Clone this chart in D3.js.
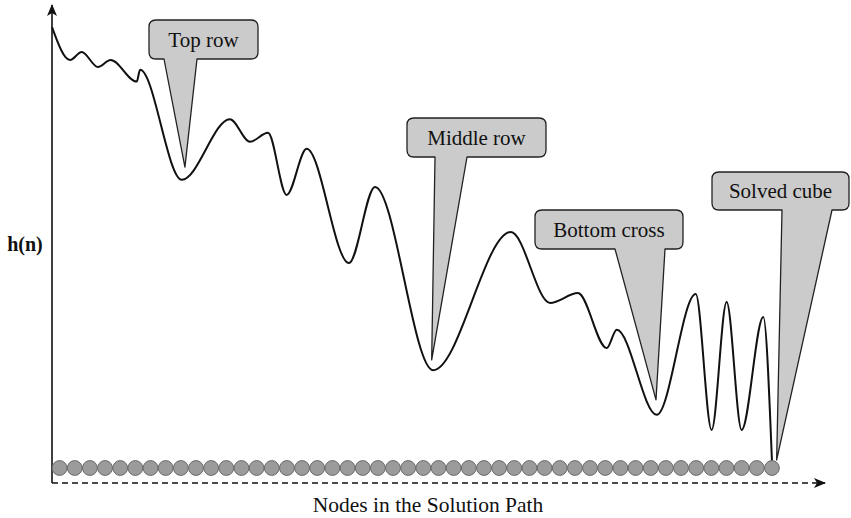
<!DOCTYPE html>
<html>
<head>
<meta charset="utf-8">
<script src="https://cdn.jsdelivr.net/npm/d3@7/dist/d3.min.js"></script>
<style>
  html, body { margin: 0; padding: 0; background: #fff; }
  svg { display: block; }
  text { font-family: "Liberation Serif", "DejaVu Serif", serif; fill: #111; }
</style>
</head>
<body>
<svg id="chart" width="851" height="518"></svg>
<script>
// Heuristic value h(n) along the solution path (x in node units, h in arbitrary units)
const pathNodeX = [-0.5, 0.69, 1.46, 2.53, 3.37, 5.09, 5.31, 8.06, 11.24, 12.56, 13.75, 14.98,
  16.30, 19.09, 20.81, 24.64, 29.78, 32.36, 34.20, 36.10, 36.76, 39.40, 41.97, 43.02,
  44.01, 45.00, 46.43, 47.0];
const pathH = [97, 90, 91.7, 88.5, 90, 85.4, 87.9, 64.5, 77.4, 72.6, 74.5, 61.3,
  71.1, 46.8, 63.0, 24.0, 53.4, 38.3, 40.4, 28.7, 32.6, 14.5, 40.2, 11.3,
  38.5, 11.3, 35.3, 4.7];

// Nodes on the solution path
const nodeCount = 48;

// Milestones marked along the curve
const milestoneLabels = ["Top row", "Middle row", "Bottom cross", "Solved cube"];
const milestoneNodeX = [8.27, 24.55, 39.35, 47.31];
const milestoneH = [67.2, 26.2, 17.7, 4.9];

// Axis titles
const yTitle = "h(n)";
const xTitle = "Nodes in the Solution Path";

// Callout box layout (pixels): left, right, top, bottom, pointer base left/right
const calloutLayout = [
  { x0: 149, x1: 258, y0: 20, y1: 59, p0: 164, p1: 197 },
  { x0: 407, x1: 546, y0: 118, y1: 157, p0: 435, p1: 467 },
  { x0: 535, x1: 683, y0: 210, y1: 249, p0: 615, p1: 665 },
  { x0: 712, x1: 849, y0: 172, y1: 210, p0: 782, p1: 832 }
];

const svg = d3.select("#chart");

const x = d3.scaleLinear().domain([-0.5, 50.5]).range([52, 825]);
const y = d3.scaleLinear().domain([0, 100]).range([483, 13]);

const defs = svg.append("defs");
defs.append("marker")
  .attr("id", "arrow")
  .attr("viewBox", "0 0 12 10")
  .attr("refX", 11).attr("refY", 5)
  .attr("markerWidth", 12).attr("markerHeight", 10)
  .attr("markerUnits", "userSpaceOnUse")
  .attr("orient", "auto")
  .append("path")
  .attr("d", "M0,0 L12,5 L0,10 L3,5 Z")
  .attr("fill", "#111");

// Callouts (drawn first so the curve sits on top)
const r = 7;
function calloutPath(b, tx, ty) {
  return [
    `M${b.x0 + r},${b.y0}`,
    `L${b.x1 - r},${b.y0}`,
    `Q${b.x1},${b.y0} ${b.x1},${b.y0 + r}`,
    `L${b.x1},${b.y1 - r}`,
    `Q${b.x1},${b.y1} ${b.x1 - r},${b.y1}`,
    `L${b.p1},${b.y1}`,
    `L${tx},${ty}`,
    `L${b.p0},${b.y1}`,
    `L${b.x0 + r},${b.y1}`,
    `Q${b.x0},${b.y1} ${b.x0},${b.y1 - r}`,
    `L${b.x0},${b.y0 + r}`,
    `Q${b.x0},${b.y0} ${b.x0 + r},${b.y0}`,
    "Z"
  ].join(" ");
}

const callouts = svg.append("g").attr("class", "callouts")
  .selectAll("g")
  .data(milestoneLabels.map((label, i) => ({
    label, nx: milestoneNodeX[i], h: milestoneH[i], box: calloutLayout[i]
  })))
  .join("g");

callouts.append("path")
  .attr("d", d => calloutPath(d.box, x(d.nx), y(d.h)))
  .attr("fill", "#cbcbcb")
  .attr("stroke", "#222")
  .attr("stroke-width", 1.3)
  .attr("stroke-linejoin", "round");

callouts.append("text")
  .attr("x", d => (d.box.x0 + d.box.x1) / 2)
  .attr("y", d => (d.box.y0 + d.box.y1) / 2 + 7)
  .attr("text-anchor", "middle")
  .attr("font-size", 21)
  .text(d => d.label);

// Axes
svg.append("line")
  .attr("x1", x(-0.5)).attr("y1", y(0))
  .attr("x2", x(-0.5)).attr("y2", 5)
  .attr("stroke", "#111").attr("stroke-width", 1.6)
  .attr("marker-end", "url(#arrow)");

svg.append("line")
  .attr("x1", x(-0.5)).attr("y1", y(0))
  .attr("x2", x(50.5)).attr("y2", y(0))
  .attr("stroke", "#111").attr("stroke-width", 1.6)
  .attr("stroke-dasharray", "6,4")
  .attr("marker-end", "url(#arrow)");

// Heuristic curve
const line = d3.line()
  .x(d => x(d[0]))
  .y(d => y(d[1]))
  .curve(d3.curveMonotoneX);

svg.append("path")
  .datum(pathNodeX.map((v, i) => [v, pathH[i]]))
  .attr("d", line)
  .attr("fill", "none")
  .attr("stroke", "#111")
  .attr("stroke-width", 2)
  .attr("stroke-linejoin", "round");

// Nodes along the path
svg.append("g").attr("class", "nodes")
  .selectAll("circle")
  .data(d3.range(nodeCount))
  .join("circle")
  .attr("cx", d => x(d))
  .attr("cy", y(0) - 15)
  .attr("r", 7.4)
  .attr("fill", "#9b9b9b")
  .attr("stroke", "#6a6a6a")
  .attr("stroke-width", 1);

// Axis titles
svg.append("text")
  .attr("x", 25).attr("y", 251)
  .attr("text-anchor", "middle")
  .attr("font-size", 20)
  .attr("font-weight", "bold")
  .text(yTitle);

svg.append("text")
  .attr("x", 428).attr("y", 512)
  .attr("text-anchor", "middle")
  .attr("font-size", 21.5)
  .text(xTitle);
</script>
</body>
</html>
